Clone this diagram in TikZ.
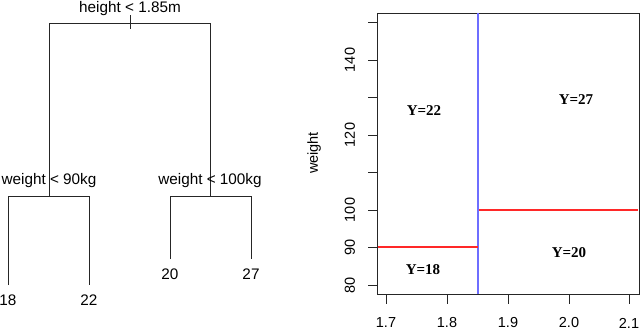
\documentclass[tikz,border=0pt]{standalone}
\usepackage{fontspec}
\setmainfont{Liberation Sans}
\newfontfamily\regfont{Liberation Serif}
\definecolor{splitred}{RGB}{255,40,40}
\definecolor{splitblue}{RGB}{110,110,255}
\begin{document}
\begin{tikzpicture}[x=1pt,y=-1pt,
  treeline/.style={line width=0.9pt,black!85},
  lbl/.style={inner sep=0pt,font=\fontsize{15.3}{17}\selectfont},
  ticklbl/.style={inner sep=0pt,font=\fontsize{14.5}{16}\selectfont},
  reg/.style={inner sep=0pt,font=\regfont\bfseries\fontsize{15}{17}\selectfont},
  axline/.style={line width=0.9pt,black!85},
  redline/.style={draw=splitred,line width=1.2pt}]
\useasboundingbox (0,0) rectangle (640,330);
% ---- tree ----
\coordinate (rl) at (49,23);
\coordinate (rr) at (210,23);
\coordinate (rt) at (130,15);
\coordinate (rb) at (130,29);
\coordinate (lc) at (49,196);
\coordinate (rc) at (210,196);
\coordinate (ll) at (8,196);
\coordinate (lr) at (89,196);
\coordinate (rlc) at (170,196);
\coordinate (rrc) at (251,196);
\coordinate (l1) at (8,285);
\coordinate (l2) at (89,285);
\coordinate (l3) at (170,259);
\coordinate (l4) at (251,259);
\draw[treeline] (lc) -- (rl) -- (rr) -- (rc);
\draw[treeline] (rt) -- (rb);
\draw[treeline] (l1) -- (ll) -- (lr) -- (l2);
\draw[treeline] (l3) -- (rlc) -- (rrc) -- (l4);
\node[lbl] (root) at (130,9) {height < 1.85m};
\node[lbl] (s1) at (49,181) {weight < 90kg};
\node[lbl] (s2) at (210,181) {weight < 100kg};
\node[lbl] (n18) at (8,300) {18};
\node[lbl] (n22) at (89,300) {22};
\node[lbl] (n20) at (170,274) {20};
\node[lbl] (n27) at (251,274) {27};
% ---- partition plot ----
\coordinate (bx1) at (377,13);
\coordinate (bx2) at (639,294);
\draw[axline] (bx1) rectangle (bx2);
% x axis ticks
\foreach \v/\px in {1.7/386,1.8/447,1.9/508,2.0/569,2.1/629}{
  \draw[axline] (\px,294) -- (\px,304);
  \node[ticklbl] at (\px,323) {\v};
}
% y axis ticks
\foreach \v in {80,90,...,150}{
  \pgfmathsetmacro\py{285-(\v-80)*3.75}
  \draw[axline] (368,\py) -- (377,\py);
}
\draw[axline] (377,285) -- (377,22.5);
\foreach \v in {80,90,100,120,140}{
  \pgfmathsetmacro\py{285-(\v-80)*3.75}
  \node[ticklbl,rotate=90] at (350,\py) {\v};
}
\node[ticklbl,rotate=90] (ylab) at (314,153) {weight};
% split lines
\coordinate (b1) at (478,13);
\coordinate (b2) at (478,294);
\coordinate (r1a) at (378,247);
\coordinate (r1b) at (478,247);
\coordinate (r2a) at (478,210);
\coordinate (r2b) at (638,210);
\draw[redline] (r2a) -- (r2b);
\draw[draw=splitblue,line width=1.2pt] (b1) -- (b2);
\draw[redline] (r1a) -- (r1b);
\node[reg] (y22) at (424,111) {Y=22};
\node[reg] (y27) at (576,100) {Y=27};
\node[reg] (y18) at (423,270) {Y=18};
\node[reg] (y20) at (569,253) {Y=20};
\end{tikzpicture}
\end{document}
